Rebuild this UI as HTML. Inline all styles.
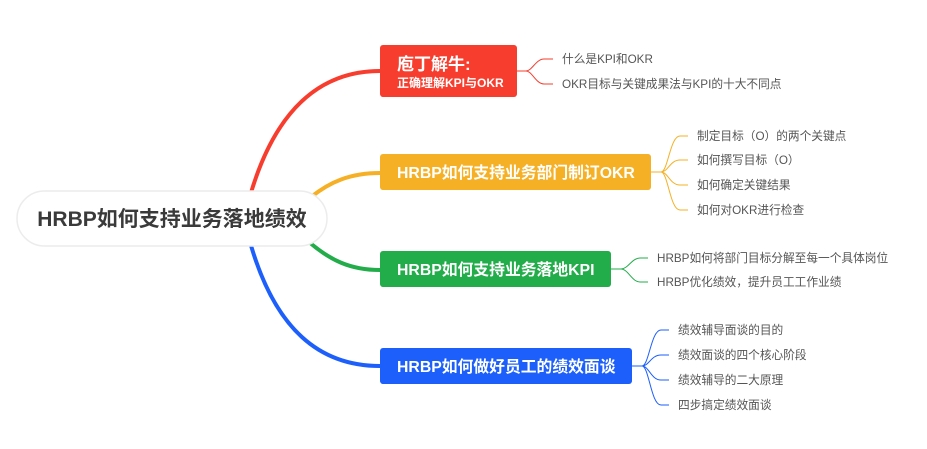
<!DOCTYPE html>
<html><head><meta charset="utf-8"><style>
html,body{margin:0;padding:0;background:#fff;}
svg{display:block;font-family:"Liberation Sans","Noto Sans CJK SC",sans-serif;}
.c{font-size:11.7px;fill:#555;}
.b{font-weight:bold;fill:#fff;}
</style></head><body>
<svg width="927" height="449" viewBox="0 0 927 449" xmlns="http://www.w3.org/2000/svg">
<rect width="927" height="449" fill="#fff"/>
<path d="M250,196 C275,110 320,71 380,71" stroke="#f73d2e" stroke-width="4" fill="none"/>
<path d="M311,197 C330,182 350,173 380,173" stroke="#f5b025" stroke-width="4" fill="none"/>
<path d="M309,242 C330,260 350,270 380,270" stroke="#22ad4a" stroke-width="4" fill="none"/>
<path d="M250,242 C275,330 320,366 380,366" stroke="#1d5ffb" stroke-width="4" fill="none"/>
<rect x="17" y="191" width="310" height="55" rx="27.5" fill="#fff" stroke="#ececec" stroke-width="1.5"/>
<text x="172" y="226" text-anchor="middle" font-size="21" font-weight="bold" fill="#3a3a3a">HRBP如何支持业务落地绩效</text>
<rect x="380" y="45" width="137" height="52" rx="3" fill="#f73d2e"/>
<text x="397" y="70" class="b" font-size="17">庖丁解牛:</text>
<text x="397" y="87" class="b" font-size="12">正确理解KPI与OKR</text>
<path d="M517,71 L526,71 C532,71 536,59 544,59 L553,59 M526,71 C532,71 536,84 544,84 L553,84" stroke="#f73d2e" stroke-width="1" fill="none"/>
<text x="562" y="63" class="c">什么是KPI和OKR</text>
<text x="562" y="88" class="c">OKR目标与关键成果法与KPI的十大不同点</text>
<rect x="380" y="154" width="271" height="36" rx="3" fill="#f5b025"/>
<text x="397" y="178" class="b" font-size="15.8">HRBP如何支持业务部门制订OKR</text>
<path d="M651,172 L661,172 M661,172 C668,172 670,136 680,136 L688,136 M661,172 C668,172 670,160 680,160 L688,160 M661,172 C668,172 670,185 680,185 L688,185 M661,172 C668,172 670,210 680,210 L688,210" stroke="#f5b025" stroke-width="1" fill="none"/>
<text x="697" y="140" class="c">制定目标（O）的两个关键点</text>
<text x="697" y="164" class="c">如何撰写目标（O）</text>
<text x="697" y="189" class="c">如何确定关键结果</text>
<text x="697" y="214" class="c">如何对OKR进行检查</text>
<rect x="380" y="251" width="231" height="36" rx="3" fill="#22ad4a"/>
<text x="397" y="275" class="b" font-size="15.8">HRBP如何支持业务落地KPI</text>
<path d="M611,269 L621,269 M621,269 C628,269 632,258 640,258 L648,258 M621,269 C628,269 632,282 640,282 L648,282" stroke="#22ad4a" stroke-width="1" fill="none"/>
<text x="657" y="262" class="c">HRBP如何将部门目标分解至每一个具体岗位</text>
<text x="657" y="286" class="c">HRBP优化绩效，提升员工工作业绩</text>
<rect x="380" y="348" width="252" height="36" rx="3" fill="#1d5ffb"/>
<text x="397" y="372" class="b" font-size="15.8">HRBP如何做好员工的绩效面谈</text>
<path d="M632,366 L642,366 M642,366 C649,366 651,330 661,330 L669,330 M642,366 C649,366 651,355 661,355 L669,355 M642,366 C649,366 651,380 661,380 L669,380 M642,366 C649,366 651,405 661,405 L669,405" stroke="#1d5ffb" stroke-width="1" fill="none"/>
<text x="678" y="334" class="c">绩效辅导面谈的目的</text>
<text x="678" y="359" class="c">绩效面谈的四个核心阶段</text>
<text x="678" y="384" class="c">绩效辅导的二大原理</text>
<text x="678" y="409" class="c">四步搞定绩效面谈</text>
</svg>
</body></html>
